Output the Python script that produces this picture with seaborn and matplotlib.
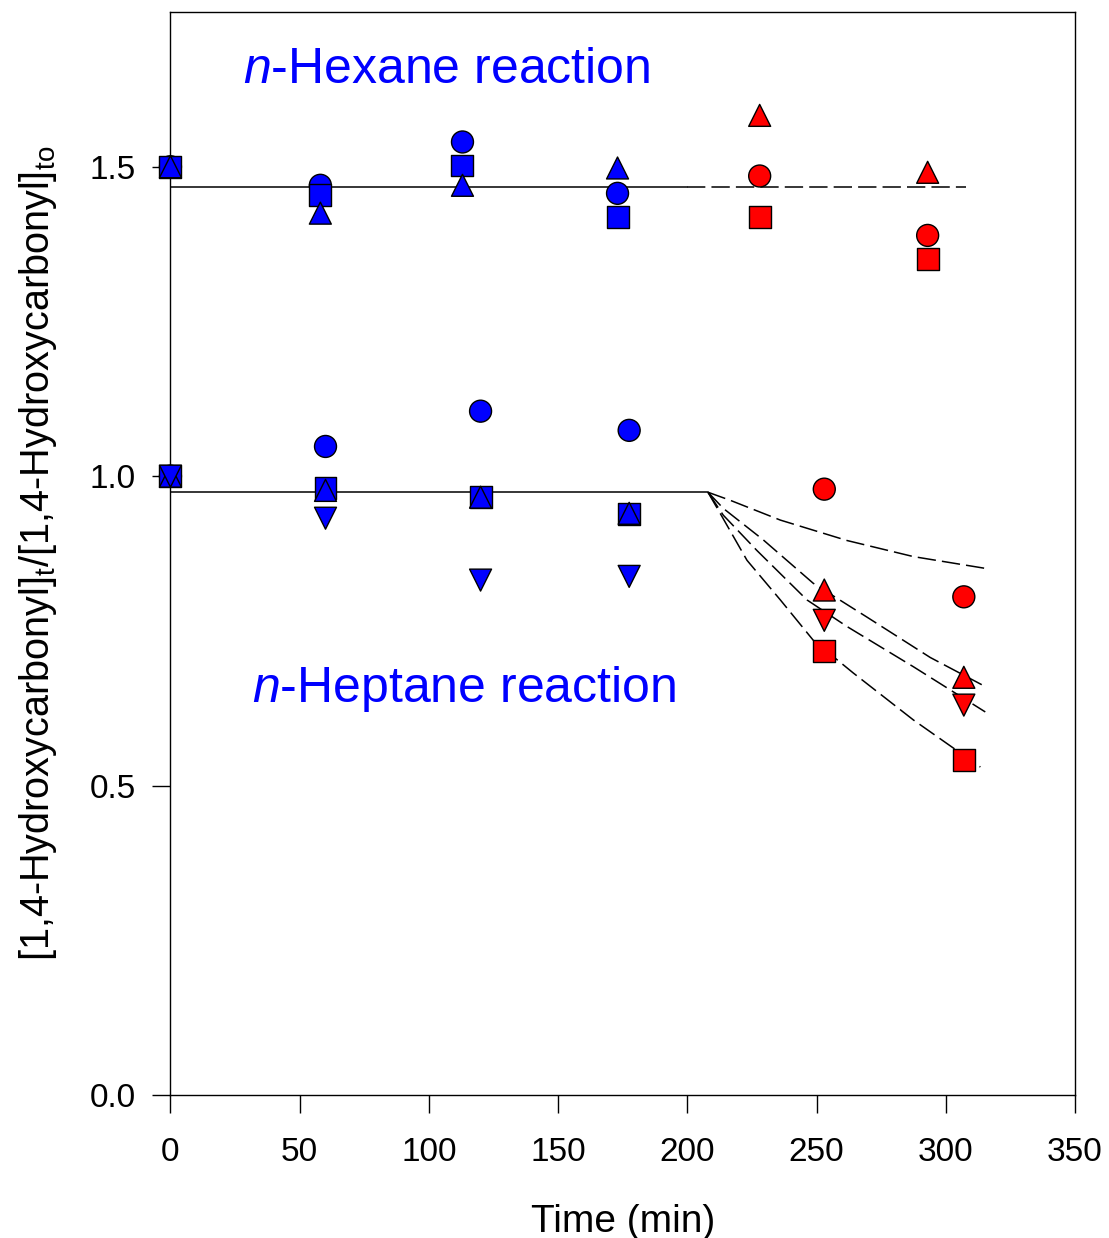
import numpy as np
import matplotlib
matplotlib.use("Agg")
import matplotlib.pyplot as plt
import pandas as pd
import seaborn as sns

# n-hexane run (blue = before, red = after)
hex_t_blue = [0, 58, 113, 173]
hex_circle_blue = [1.50, 1.470, 1.540, 1.457]
hex_square_blue = [1.50, 1.454, 1.502, 1.418]
hex_up_blue = [1.50, 1.425, 1.470, 1.498]
hex_t_red = [228, 293]
hex_circle_red = [1.485, 1.389]
hex_square_red = [1.418, 1.351]
hex_up_red = [1.583, 1.491]

# n-heptane run
hep_t_blue = [0, 60, 120, 177.5]
hep_circle_blue = [1.0, 1.048, 1.105, 1.074]
hep_square_blue = [1.0, 0.981, 0.966, 0.939]
hep_up_blue = [1.0, 0.977, 0.966, 0.940]
hep_down_blue = [1.0, 0.932, 0.832, 0.838]
hep_t_red = [253, 307]
hep_circle_red = [0.979, 0.805]
hep_square_red = [0.717, 0.541]
hep_up_red = [0.816, 0.675]
hep_down_red = [0.767, 0.630]

# fitted lines
hex_fit_level = 1.467
hex_solid_t = [0, 200]
hex_dash_t = [200, 308]
hep_fit_level = 0.974
hep_solid_t = [0, 208]
curve_circle_t = [208, 216.6, 236, 261.8, 287.5, 315.3]
curve_circle_y = [0.974, 0.961, 0.929, 0.896, 0.870, 0.851]
curve_up_t = [208, 213.9, 229.4, 248.7, 269.6, 294, 315.3]
curve_up_y = [0.974, 0.948, 0.897, 0.827, 0.772, 0.707, 0.660]
curve_down_t = [208, 213.9, 226.9, 246.3, 261.8, 287.5, 315.3]
curve_down_y = [0.974, 0.937, 0.880, 0.800, 0.757, 0.692, 0.619]
curve_square_t = [208, 212.7, 223.1, 236, 248.7, 264.2, 287.5, 313.4]
curve_square_y = [0.974, 0.940, 0.864, 0.800, 0.735, 0.682, 0.606, 0.530]

rows = []
def add(ts, ys, shape, phase):
    for t, y in zip(ts, ys):
        rows.append({"t": t, "y": y, "shape": shape, "phase": phase})

# draw order: circles, squares, up triangles, down triangles
add(hex_t_blue, hex_circle_blue, "o", "blue")
add(hep_t_blue, hep_circle_blue, "o", "blue")
add(hex_t_red, hex_circle_red, "o", "red")
add(hep_t_red, hep_circle_red, "o", "red")
add(hex_t_blue, hex_square_blue, "s", "blue")
add(hep_t_blue, hep_square_blue, "s", "blue")
add(hex_t_red, hex_square_red, "s", "red")
add(hep_t_red, hep_square_red, "s", "red")
add(hex_t_blue, hex_up_blue, "^", "blue")
add(hep_t_blue, hep_up_blue, "^", "blue")
add(hex_t_red, hex_up_red, "^", "red")
add(hep_t_red, hep_up_red, "^", "red")
add(hep_t_blue, hep_down_blue, "v", "blue")
add(hep_t_red, hep_down_red, "v", "red")
df = pd.DataFrame(rows)

sns.set_style("ticks")
plt.rcParams["font.family"] = ["Liberation Sans", "DejaVu Sans"]
plt.rcParams["mathtext.fontset"] = "custom"
plt.rcParams["mathtext.rm"] = "Liberation Sans"
plt.rcParams["mathtext.it"] = "Liberation Sans:italic"
plt.rcParams["text.color"] = "black"
plt.rcParams["axes.labelcolor"] = "black"
plt.rcParams["xtick.color"] = "black"
plt.rcParams["ytick.color"] = "black"

fig = plt.figure(figsize=(11.09, 12.38), dpi=100)
ax = fig.add_axes([0.1537, 0.1155, 0.8156, 0.8748])

dash = (12, 4)
ax.plot(hex_solid_t, [hex_fit_level] * 2, color="black", lw=1.1)
ax.plot(hex_dash_t, [hex_fit_level] * 2, color="black", lw=1.1, dashes=dash)
ax.plot(hep_solid_t, [hep_fit_level] * 2, color="black", lw=1.1)
for ct, cy in [(curve_circle_t, curve_circle_y), (curve_up_t, curve_up_y),
               (curve_down_t, curve_down_y), (curve_square_t, curve_square_y)]:
    sns.lineplot(x=ct, y=cy, ax=ax, color="black", lw=1.1, dashes=False,
                 estimator=None, sort=False)
    ax.lines[-1].set_dashes(dash)

sns.scatterplot(data=df, x="t", y="y", hue="phase", style="shape",
                palette={"blue": "#0000ff", "red": "#ff0000"},
                markers={"o": "o", "s": "s", "^": "^", "v": "v"},
                s=250, edgecolor="black", linewidth=1, legend=False,
                clip_on=False, zorder=5, ax=ax)

ax.set_xlim(0, 350)
ax.set_ylim(0, 1.75)
ax.set_xticks([0, 50, 100, 150, 200, 250, 300, 350])
ax.set_yticks([0.0, 0.5, 1.0, 1.5])
ax.set_yticklabels(["0.0", "0.5", "1.0", "1.5"])
for sp in ax.spines.values():
    sp.set_visible(True)
    sp.set_linewidth(1.0)
    sp.set_color("black")
ax.tick_params(direction="out", length=13, width=1, labelsize=24,
               color="black", labelcolor="black")
ax.tick_params(axis="x", pad=17)
ax.tick_params(axis="y", pad=12)

ax.set_xlabel("Time (min)", fontsize=28, labelpad=26)
ax.set_ylabel(r"[1,4-Hydroxycarbonyl]$_\mathregular{t}$/[1,4-Hydroxycarbonyl]$_\mathregular{to}$",
              fontsize=28.5, labelpad=22)

ax.text(28, 1.657, r"$\mathit{n}$-Hexane reaction", color="#0000ff",
        fontsize=36, va="center", ha="left")
ax.text(31.5, 0.656, r"$\mathit{n}$-Heptane reaction", color="#0000ff",
        fontsize=36, va="center", ha="left")

fig.savefig("out.png", dpi=100)
